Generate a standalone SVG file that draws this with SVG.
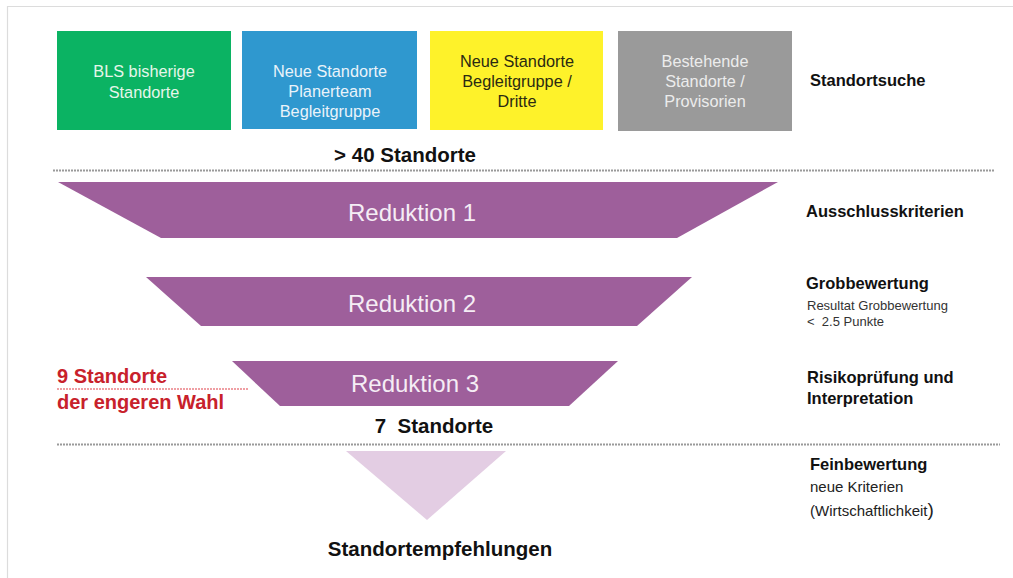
<svg xmlns="http://www.w3.org/2000/svg" width="1013" height="578" viewBox="0 0 1013 578">
<style>
text{font-family:"Liberation Sans",Arial,sans-serif}
.box{font-size:16.3px;text-anchor:middle}
.red{font-size:24px;text-anchor:middle;fill:#f5edf5}
.lbl{font-size:16.5px;font-weight:bold;fill:#111}
.cnt{font-size:20.5px;font-weight:bold;fill:#111}
.sep{stroke:#9a9a9a;stroke-width:2;stroke-dasharray:2 1;fill:none}
.trap{fill:#9e5f9b}
</style>
<rect width="1013" height="578" fill="#ffffff"/>
<path d="M7.5 578V6.5H1013" fill="none" stroke="#dcdcdc" stroke-width="1.2"/>

<g id="connectors">
<line class="sep" x1="53" y1="170.5" x2="995" y2="170.5"/>
<line class="sep" x1="57" y1="444.5" x2="1000" y2="444.5"/>
</g>

<g id="node-bls">
<rect x="57" y="31" width="174" height="99" fill="#0bb363"/>
<text class="box" fill="#e6f6ea"><tspan x="144" y="77">BLS bisherige</tspan><tspan x="144" y="98">Standorte</tspan></text>
</g>
<g id="node-planerteam">
<rect x="242" y="31" width="175" height="98" fill="#2f98cf"/>
<text class="box" fill="#eaf3fa"><tspan x="330" y="77">Neue Standorte</tspan><tspan x="330" y="97">Planerteam</tspan><tspan x="330" y="117">Begleitgruppe</tspan></text>
</g>
<g id="node-dritte">
<rect x="430" y="31" width="173" height="99" fill="#fef22a"/>
<text class="box" fill="#2b2a12"><tspan x="517" y="67">Neue Standorte</tspan><tspan x="517" y="87">Begleitgruppe /</tspan><tspan x="517" y="107">Dritte</tspan></text>
</g>
<g id="node-bestehende">
<rect x="618" y="31" width="174" height="100" fill="#9a9a9a"/>
<text class="box" fill="#ececec"><tspan x="705" y="67">Bestehende</tspan><tspan x="705" y="87">Standorte /</tspan><tspan x="705" y="107">Provisorien</tspan></text>
</g>
<g id="label-standortsuche">
<text class="lbl" x="810" y="86">Standortsuche</text>
</g>
<g id="count-40">
<text class="cnt" x="405" y="162" text-anchor="middle">&gt; 40 Standorte</text>
</g>

<g id="node-reduktion1">
<polygon class="trap" points="58,182 778,182 677,238 161,238"/>
<text class="red" x="412" y="221">Reduktion 1</text>
</g>
<g id="label-ausschluss">
<text class="lbl" x="806" y="217">Ausschlusskriterien</text>
</g>

<g id="node-reduktion2">
<polygon class="trap" points="146,277 692,277 637,326 201,326"/>
<text class="red" x="412" y="312">Reduktion 2</text>
</g>
<g id="label-grob">
<text class="lbl" x="806" y="289">Grobbewertung</text>
<text x="807" y="310" font-size="13" fill="#333">Resultat Grobbewertung</text>
<text x="807" y="326" font-size="13" fill="#333" style="white-space:pre">&lt;  2.5 Punkte</text>
</g>

<g id="node-reduktion3">
<polygon class="trap" points="232,361 618,361 569,406 280,406"/>
<text class="red" x="415" y="392">Reduktion 3</text>
</g>
<g id="label-risiko">
<text class="lbl"><tspan x="807" y="383">Risikoprüfung und</tspan><tspan x="807" y="404">Interpretation</tspan></text>
</g>
<g id="label-9-standorte">
<text font-size="20" font-weight="bold" fill="#c8212b"><tspan x="57" y="383">9 Standorte</tspan><tspan x="57" y="409">der engeren Wahl</tspan></text>
<line x1="57" y1="389" x2="248" y2="389" stroke="#e0404a" stroke-width="1.2" stroke-dasharray="2 1"/>
</g>
<g id="count-7">
<text class="cnt" x="434" y="433" text-anchor="middle" style="white-space:pre">7  Standorte</text>
</g>

<g id="node-fein">
<polygon points="346,451 506,451 427,520" fill="#e3cde3"/>
</g>
<g id="label-fein">
<text class="lbl" x="810" y="470">Feinbewertung</text>
<text x="810" y="492" font-size="15" fill="#222">neue Kriterien</text>
<text x="810" y="516" font-size="15" fill="#222">(Wirtschaftlichkeit<tspan font-size="19">)</tspan></text>
</g>
<g id="label-empfehlungen">
<text class="cnt" x="440" y="556" text-anchor="middle" font-size="21.5">Standortempfehlungen</text>
</g>
</svg>
